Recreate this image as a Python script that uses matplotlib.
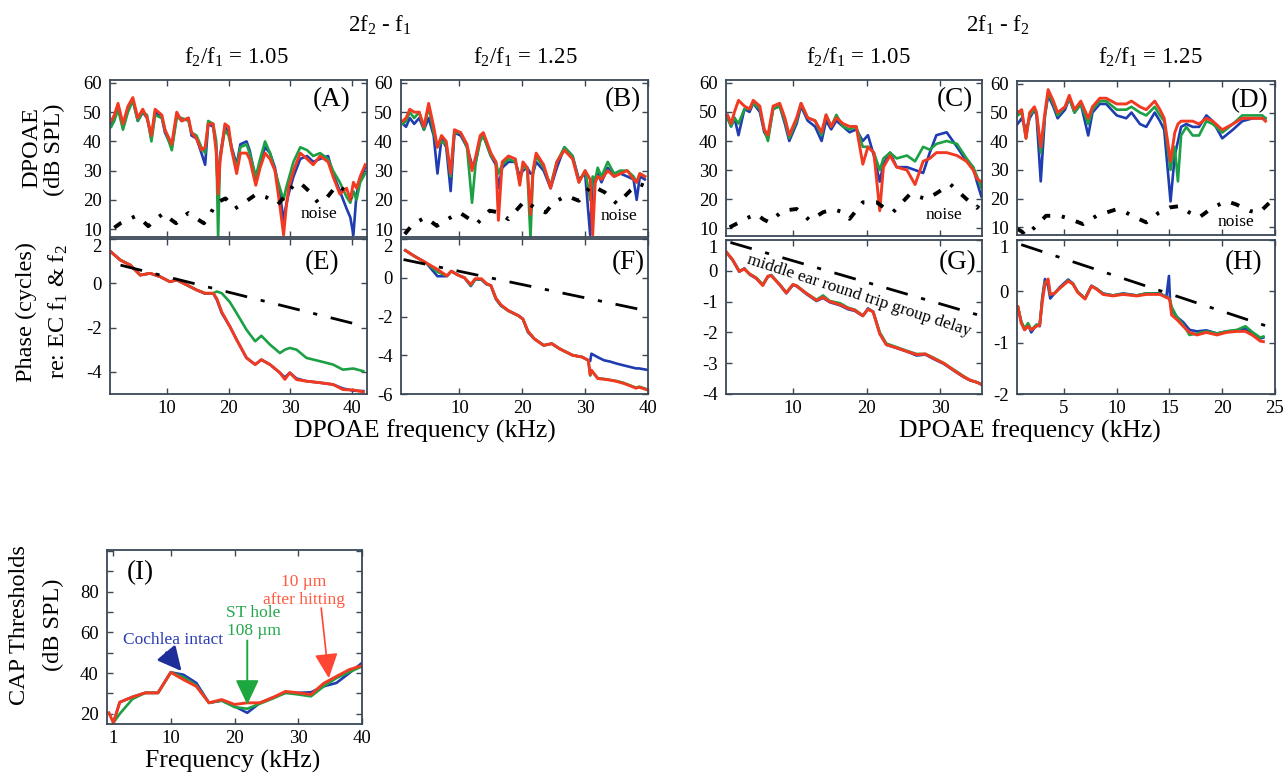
import matplotlib
matplotlib.use('Agg')
import matplotlib.pyplot as plt

plt.rcParams['font.family'] = ['Liberation Serif', 'DejaVu Serif']
plt.rcParams['mathtext.fontset'] = 'custom'
plt.rcParams['mathtext.rm'] = 'Liberation Serif'
plt.rcParams['mathtext.default'] = 'regular'
plt.rcParams['axes.unicode_minus'] = False

BLUE = '#1f3cb0'
GREEN = '#1ca044'
RED = '#f23a22'
FRAME = '#3a4856'

# ---- (A) 2f2-f1, f2/f1 = 1.05, magnitude (dB SPL)
fa = [1.0, 1.5, 2.1, 2.9, 3.7, 4.5, 5.3, 6.1, 6.8, 7.5,
      8.1, 9.2, 9.7, 10.8, 11.6, 12.4, 13.5, 14.0, 14.8, 15.6,
      16.2, 16.7, 17.5, 18.0, 18.3, 18.6, 19.4, 20.0, 20.5, 21.3,
      21.9, 22.9, 23.4, 24.4, 25.1, 25.9, 26.7, 27.5, 28.3, 28.9,
      29.3, 29.7, 30.5, 31.6, 32.7, 33.7, 34.8, 36.1, 36.9, 38.0,
      39.1, 39.7, 40.2, 40.7, 41.3, 42.1]
a_blue = [46, 48, 52, 45, 51, 54, 47, 50, 48, 41,
          50, 48, 43, 38, 49, 47, 48, 42, 41, 36,
          32, 46, 45, 38, 20, 35, 45, 43, 38, 32,
          39, 40, 37, 27, 33, 38, 36, 31, 22, 13,
          18, 22, 28, 34, 35, 33, 34, 35, 29, 23,
          17, 14, 8, 22, 27, 31]
a_green = [45, 47, 51, 44, 50, 54, 47, 50, 49, 40,
           49, 48, 44, 37, 48, 48, 47, 43, 42, 38,
           36, 47, 46, 40, 7, 34, 44, 42, 37, 31,
           38, 39, 36, 28, 34, 40, 36, 30, 24, 20,
           24, 27, 33, 38, 37, 35, 36, 34, 30, 26,
           21, 19, 23, 20, 26, 29]
a_red = [47, 49, 53, 46, 52, 55, 48, 51, 48, 42,
         51, 49, 44, 39, 50, 47, 48, 43, 41, 37,
         38, 46, 46, 36, 22, 33, 46, 45, 37, 29,
         36, 36, 34, 25, 31, 36, 34, 30, 18, 8,
         17, 24, 30, 36, 34, 32, 35, 33, 28, 22,
         24, 20, 26, 24, 28, 32]
na_f = [1.5, 2.5, 3.5, 5.0, 6.0, 7.0, 8.0, 9.5, 10.5, 11.5, 12.5, 13.5, 14.5, 16.0, 17.0,
        18.0, 19.5, 21.0, 22.5, 24.5, 26.0, 28.0, 29.0, 30.5, 31.5, 33.0, 34.5, 36.0, 37.5, 39.0, 40.0]
na_db = [10.5, 12.0, 13.0, 14.5, 13.0, 11.0, 13.0, 15.5, 13.5, 12.0, 14.0, 15.5, 14.0, 12.0, 15.0,
         19.0, 20.5, 17.0, 19.0, 22.0, 21.0, 18.5, 21.0, 25.0, 26.0, 23.0, 19.0, 21.0, 25.0, 23.0, 20.5]

# ---- (B) 2f2-f1, f2/f1 = 1.25
fb = [1.0, 1.5, 2.1, 2.8, 3.6, 4.35, 5.1, 5.9, 6.5, 7.15,
      7.9, 8.6, 9.2, 10.2, 11.2, 12.0, 12.6, 13.3, 13.8, 15.0,
      15.8, 16.2, 16.8, 17.8, 18.9, 19.6, 20.1, 20.8, 21.3, 21.7,
      22.2, 23.4, 24.5, 25.5, 26.7, 28.0, 29.0, 30.0, 30.8, 31.2,
      31.6, 32.0, 32.6, 33.6, 34.6, 35.6, 36.7, 37.7, 38.2, 38.7,
      39.5]
b_blue = [46, 45, 48, 46, 48, 44, 48, 42, 29, 41,
          38, 23, 43, 42, 38, 32, 33, 41, 42, 35,
          32, 24, 31, 33, 33, 28, 30, 31, 29, 29,
          33, 30, 24, 31, 38, 35, 27, 29, 8, 27,
          26, 29, 26, 31, 28, 29, 28, 27, 20, 28,
          27]
b_green = [46, 47, 50, 48, 50, 44, 52, 43, 38, 40,
           39, 28, 43, 43, 38, 19, 33, 40, 42, 35,
           33, 29, 32, 34, 33, 26, 32, 30, 7, 29,
           35, 31, 25, 33, 38, 35, 26, 30, 20, 28,
           27, 31, 28, 33, 29, 30, 30, 28, 26, 29,
           28]
b_red = [47, 48, 51, 50, 50, 45, 53, 45, 38, 42,
         40, 29, 44, 43, 39, 30, 35, 42, 43, 36,
         33, 13, 33, 35, 34, 25, 33, 31, 15, 30,
         36, 32, 24, 33, 37, 34, 26, 30, 27, 8,
         26, 28, 27, 30, 28, 29, 30, 27, 26, 29,
         28]
nb_f = [1.3, 2.6, 4.6, 6.4, 7.7, 10.0, 11.2, 12.7, 14.8, 16.3, 17.8, 20.4,
        21.9, 23.7, 25.0, 27.0, 29.0, 31.0, 33.1, 35.1, 37.2, 38.7, 39.8]
nb_db = [8.3, 11.7, 14.0, 11.1, 12.9, 15.7, 14.0, 11.7, 16.3, 15.7, 13.4, 19.7,
         17.4, 15.7, 19.1, 21.4, 19.7, 24.9, 22.6, 18.6, 23.2, 25.4, 24.5]

# ---- (C) 2f1-f2, f2/f1 = 1.05
fc = [1.1, 1.6, 2.05, 2.6, 3.4, 4.1, 4.6, 5.5, 6.1, 6.6,
      7.3, 8.2, 8.9, 9.5, 10.5, 11.1, 12.0, 13.0, 13.9, 14.5,
      15.2, 15.9, 16.8, 17.7, 18.6, 19.5, 20.2, 21.0, 21.8, 22.3,
      23.2, 24.1, 25.5, 26.6, 27.7, 28.6, 29.5, 30.9, 32.3, 33.6,
      34.5, 35.0, 35.6]
c_blue = [48, 45, 48, 42, 51, 50, 53, 50, 43, 41,
          51, 52, 46, 40, 46, 52, 47, 45, 40, 47,
          44, 47, 45, 43, 44, 40, 42, 35, 26, 32,
          36, 31, 31, 30, 29, 36, 42, 43, 38, 33,
          31, 26, 21]
c_green = [48, 45, 48, 46, 51, 51, 53, 51, 44, 40,
           51, 52, 47, 41, 47, 53, 48, 47, 42, 49,
           45, 49, 45, 44, 45, 38, 38, 36, 30, 34,
           36, 34, 35, 33, 38, 37, 39, 40, 39, 34,
           31, 28, 24]
c_red = [49, 46, 50, 54, 52, 51, 54, 52, 44, 42,
         52, 53, 48, 42, 48, 53, 48, 47, 43, 49,
         45, 48, 46, 45, 45, 32, 38, 36, 16, 31,
         35, 31, 30, 25, 33, 34, 36, 36, 35, 33,
         30, 27, 26]
nc_f = [1.4, 2.7, 3.8, 5.0, 6.0, 6.8, 8.6, 10.5, 11.5, 12.3, 14.1, 15.5, 16.8,
        17.7, 19.5, 21.4, 22.4, 23.6, 25.9, 28.2, 29.5, 31.4, 33.6, 35.0, 35.6]
nc_db = [10.3, 12.0, 13.5, 14.9, 13.0, 12.0, 16.0, 16.6, 14.5, 12.6, 15.5, 16.5, 15.5,
         13.2, 18.9, 18.9, 17.0, 15.5, 21.7, 20.0, 22.0, 25.1, 20.0, 17.0, 19.0]

# ---- (D) 2f1-f2, f2/f1 = 1.25
fd = [0.6, 1.0, 1.4, 1.75, 2.2, 2.4, 2.8, 3.2, 3.5, 4.0,
      4.4, 5.1, 5.5, 6.0, 6.6, 7.3, 7.7, 8.4, 9.0, 10.0,
      10.9, 11.4, 12.2, 12.8, 13.6, 14.1, 14.5, 15.1, 15.5, 15.8,
      16.1, 16.6, 17.2, 17.8, 18.5, 19.1, 20.0, 21.0, 21.9, 22.9,
      23.8, 24.1]
d_blue = [46, 48, 44, 48, 51, 49, 26, 49, 56, 52,
          48, 51, 55, 50, 53, 42, 50, 53, 53, 49,
          48, 50, 46, 45, 50, 47, 44, 19, 35, 40,
          45, 46, 45, 45, 49, 47, 41, 44, 47, 48,
          48, 48]
d_green = [49, 50, 41, 49, 51, 50, 36, 49, 57, 53,
           49, 52, 55, 50, 53, 46, 51, 54, 54, 51,
           51, 52, 50, 49, 52, 49, 47, 30, 38, 26,
           42, 45, 42, 42, 47, 46, 43, 46, 49, 49,
           49, 48]
d_red = [50, 51, 41, 50, 52, 50, 38, 50, 58, 54,
         50, 52, 56, 51, 54, 48, 52, 55, 55, 53,
         53, 54, 52, 51, 54, 51, 48, 33, 43, 46,
         47, 47, 47, 46, 48, 47, 44, 46, 48, 48,
         48, 47]
nd_f = [0.6, 1.0, 1.4, 2.7, 3.3, 4.6, 5.5, 6.8, 8.1, 9.0, 10.0, 10.9, 11.8,
        12.8, 14.0, 15.0, 16.0, 16.9, 17.8, 19.1, 20.4, 21.3, 22.6, 23.5, 24.8]
nd_db = [9.4, 8.5, 7.0, 11.7, 14.0, 14.0, 13.0, 11.1, 14.0, 15.1, 16.3, 15.1, 13.4,
         11.7, 15.1, 16.9, 17.4, 15.1, 13.4, 16.9, 19.1, 18.0, 15.7, 15.1, 19.7]

# ---- phase panels (cycles)
fe = [0.95, 2.46, 4.1, 5.7, 7.3, 8.9, 10.5, 11.6, 13.2, 14.8,
      16.2, 17.5, 18.1, 18.9, 20.2, 21.3, 22.9, 24.3, 25.3, 26.7,
      28.3, 29.1, 29.9, 31.0, 32.6, 34.8, 36.9, 38.5, 40.2, 41.8]
e_blue = [1.42, 1.05, 0.82, 0.37, 0.45, 0.30, 0.07, 0.15, -0.07, -0.30,
          -0.47, -0.45, -0.75, -1.35, -1.95, -2.55, -3.37, -3.67, -3.45, -3.67,
          -4.04, -4.25, -4.04, -4.30, -4.42, -4.49, -4.57, -4.75, -4.85, -4.87]
e_green = [1.42, 1.05, 0.82, 0.37, 0.45, 0.30, 0.07, 0.15, -0.07, -0.30,
           -0.45, -0.45, -0.37, -0.45, -0.85, -1.35, -2.10, -2.62, -2.37, -2.77,
           -3.15, -3.00, -2.92, -3.00, -3.37, -3.52, -3.67, -3.90, -3.85, -3.97]
e_red = [1.42, 1.05, 0.82, 0.37, 0.45, 0.30, 0.07, 0.15, -0.07, -0.30,
         -0.45, -0.45, -0.70, -1.30, -1.95, -2.55, -3.37, -3.67, -3.45, -3.67,
         -4.04, -4.34, -4.04, -4.35, -4.42, -4.49, -4.57, -4.80, -4.82, -4.90]
gd_e_f = [2.5, 40.0]
gd_e = [0.82, -1.80]

ff = [1.4, 2.9, 4.7, 6.5, 8.0, 8.7, 9.7, 10.8, 11.8, 12.5,
      13.5, 14.3, 15.0, 15.8, 16.6, 17.8, 19.4, 20.1, 20.9, 21.9,
      23.4, 24.7, 25.9, 28.0, 29.5, 30.5, 30.8, 31.0, 32.0, 33.0,
      34.0, 35.0, 36.1, 37.1, 38.1, 38.6, 39.8]
f_blue = [1.41, 1.10, 0.77, 0.08, 0.08, 0.34, 0.15, 0.00, -0.43, -0.09,
          -0.10, -0.34, -0.40, -1.10, -1.45, -1.70, -1.96, -2.13, -2.81, -3.15,
          -3.49, -3.40, -3.66, -4.00, -4.09, -4.26, -4.30, -3.92, -4.10, -4.26,
          -4.33, -4.43, -4.52, -4.60, -4.68, -4.68, -4.75]
f_green = [1.41, 1.10, 0.77, 0.30, 0.10, 0.34, 0.15, 0.00, -0.40, -0.08,
           -0.08, -0.32, -0.40, -1.08, -1.42, -1.72, -1.96, -2.15, -2.78, -3.15,
           -3.49, -3.40, -3.66, -4.00, -4.09, -4.26, -5.05, -4.80, -5.18, -5.22,
           -5.28, -5.33, -5.42, -5.55, -5.68, -5.62, -5.75]
f_red = [1.41, 1.10, 0.77, 0.43, 0.10, 0.34, 0.15, 0.00, -0.35, -0.05,
         -0.05, -0.30, -0.40, -1.05, -1.40, -1.70, -1.96, -2.13, -2.75, -3.15,
         -3.49, -3.40, -3.66, -4.00, -4.09, -4.26, -5.00, -4.77, -5.20, -5.24,
         -5.28, -5.35, -5.45, -5.57, -5.70, -5.65, -5.78]
gd_f_f = [1.1, 40.0]
gd_f = [0.94, -1.72]

fg = [1.0, 1.8, 2.7, 3.4, 4.1, 5.0, 5.9, 6.6, 7.05, 8.2,
      9.1, 10.0, 10.5, 11.8, 13.2, 14.1, 15.0, 16.4, 17.5, 18.4,
      19.5, 20.2, 20.9, 21.8, 22.7, 24.1, 25.5, 26.8, 28.0, 29.1,
      30.5, 31.8, 33.2, 34.1, 35.0, 35.7]
g_blue = [0.58, 0.35, -0.03, 0.08, -0.12, -0.25, -0.46, -0.19, -0.14, -0.46,
          -0.73, -0.46, -0.50, -0.75, -0.98, -0.88, -1.02, -1.12, -1.25, -1.30,
          -1.47, -1.22, -1.33, -2.03, -2.40, -2.51, -2.62, -2.75, -2.72, -2.86,
          -3.02, -3.23, -3.45, -3.56, -3.62, -3.70]
g_green = [0.58, 0.35, 0.00, 0.05, -0.10, -0.22, -0.44, -0.19, -0.14, -0.44,
           -0.70, -0.46, -0.48, -0.72, -0.94, -0.80, -0.98, -1.05, -1.20, -1.26,
           -1.45, -1.25, -1.33, -2.00, -2.36, -2.48, -2.60, -2.70, -2.70, -2.82,
           -3.00, -3.20, -3.42, -3.55, -3.62, -3.68]
g_red = [0.60, 0.36, -0.02, 0.06, -0.10, -0.24, -0.48, -0.17, -0.16, -0.45,
         -0.72, -0.44, -0.49, -0.73, -0.96, -0.86, -1.00, -1.10, -1.22, -1.28,
         -1.46, -1.25, -1.33, -2.05, -2.40, -2.50, -2.62, -2.72, -2.70, -2.84,
         -3.00, -3.22, -3.44, -3.55, -3.62, -3.70]
gd_g_f = [1.5, 35.7]
gd_g = [0.92, -1.47]

fh = [0.63, 0.95, 1.27, 1.6, 1.9, 2.4, 2.7, 2.95, 3.2, 3.5,
      3.7, 4.1, 4.6, 5.4, 5.85, 6.3, 7.0, 7.6, 8.1, 8.7,
      9.65, 10.6, 11.9, 12.8, 14.1, 14.7, 14.95, 15.05, 15.2, 15.7,
      16.3, 16.9, 17.6, 18.5, 19.5, 20.4, 21.4, 22.2, 22.9, 23.6,
      23.9]
h_blue = [-0.30, -0.59, -0.75, -0.65, -0.80, -0.65, -0.68, -0.11, 0.24, 0.10,
          -0.14, -0.04, 0.08, 0.23, 0.15, -0.01, -0.14, 0.11, 0.05, -0.04,
          -0.08, -0.04, -0.08, -0.04, -0.04, -0.11, 0.30, -0.17, -0.35, -0.50,
          -0.60, -0.75, -0.78, -0.76, -0.82, -0.78, -0.76, -0.72, -0.84, -0.92,
          -0.90]
h_green = [-0.30, -0.59, -0.72, -0.62, -0.75, -0.65, -0.66, -0.15, 0.18, 0.20,
           -0.06, -0.04, 0.06, 0.21, 0.15, -0.01, -0.14, 0.10, 0.05, -0.05,
           -0.08, -0.05, -0.08, -0.04, -0.05, -0.11, -0.13, -0.17, -0.30, -0.50,
           -0.65, -0.85, -0.82, -0.78, -0.82, -0.78, -0.75, -0.68, -0.80, -0.90,
           -0.88]
h_red = [-0.30, -0.62, -0.75, -0.68, -0.75, -0.68, -0.66, -0.20, 0.15, 0.24,
         -0.06, -0.04, 0.06, 0.20, 0.14, -0.02, -0.15, 0.10, 0.04, -0.06,
         -0.09, -0.06, -0.09, -0.06, -0.06, -0.12, -0.14, -0.20, -0.46, -0.55,
         -0.68, -0.80, -0.85, -0.80, -0.85, -0.80, -0.78, -0.78, -0.86, -0.97,
         -0.98]
gd_h_f = [0.95, 25.0]
gd_h = [0.91, -0.73]

# ---- (I) CAP thresholds
fi = [1, 2, 4, 6, 8, 10, 12, 14, 16, 18, 20, 22, 24, 26, 28, 30, 32, 34, 36, 38, 40]
i_blue = [15.6, 25.7, 28.3, 30.3, 30.3, 40.4, 39.2, 35.2, 25.4, 26.5, 23.7,
          20.5, 25.4, 28.0, 30.3, 30.3, 30.6, 33.5, 35.2, 40.0, 45.0]
i_green = [15.6, 20.0, 27.3, 30.3, 30.3, 40.4, 38.0, 34.0, 25.4, 26.5, 23.3,
           22.5, 25.0, 27.5, 30.3, 29.5, 28.6, 33.5, 37.6, 40.5, 43.3]
fi_red = [0.3] + fi
i_red = [20.5, 15.6, 25.7, 28.3, 30.3, 30.3, 40.4, 36.8, 33.5, 25.4, 27.0, 24.6,
         25.4, 25.4, 28.0, 31.0, 30.3, 29.5, 35.0, 38.4, 41.7, 43.7]

W, H = 1283, 774
fig = plt.figure(figsize=(W / 100, H / 100), dpi=100)


def px_axes(l, t, r, b):
    return fig.add_axes([l / W, 1 - b / H, (r - l) / W, (b - t) / H])


def style(ax, labelbottom=True):
    for s in ax.spines.values():
        s.set_color(FRAME)
        s.set_linewidth(1.3)
    ax.tick_params(direction='in', top=True, right=True, length=4, width=1,
                   color=FRAME, labelsize=13.5, pad=6, labelbottom=labelbottom)
    ax.tick_params(axis='x', pad=4)


def three(ax, x, b, g, r, xr=None):
    ax.plot(x, b, color=BLUE, lw=1.9)
    ax.plot(x, g, color=GREEN, lw=1.9)
    ax.plot(x if xr is None else xr, r, color=RED, lw=2.1)


def noise(ax, x, y, tx, ty):
    ax.plot(x, y, color='k', lw=2.8, ls=(0, (2.2, 3, 0.8, 3)))
    ax.text(tx, ty, 'noise', fontsize=12.5, ha='center', va='center')


def delay(ax, x, y):
    ax.plot(x, y, color='k', lw=2, ls=(0, (8, 5, 1.5, 5)))


def top_label_down(ax):
    # the top phase label sits just under the frame, as in the figure
    ax.yaxis.get_major_ticks()[0].label1.set_verticalalignment('top')


def ptext(fx, fy, s, **kw):
    fig.text(fx / W, 1 - fy / H, s, ha='center', va='center', **kw)


boxes = {
    'A': (110, 80, 367, 237), 'B': (401, 80, 648, 237),
    'C': (726, 80, 982, 236), 'D': (1017, 81, 1275, 235),
    'E': (110, 239, 367, 394), 'F': (401, 239, 648, 394),
    'G': (726, 240, 982, 394), 'H': (1017, 240, 1275, 394),
}
ax = {k: px_axes(*v) for k, v in boxes.items()}

# magnitude panels
three(ax['A'], fa, a_blue, a_green, a_red)
noise(ax['A'], na_f, na_db, 34.6, 15.1)
three(ax['B'], fb, b_blue, b_green, b_red)
noise(ax['B'], nb_f, nb_db, 35.3, 14.5)
three(ax['C'], fc, c_blue, c_green, c_red)
noise(ax['C'], nc_f, nc_db, 30.5, 14.6)
three(ax['D'], fd, d_blue, d_green, d_red)
noise(ax['D'], nd_f, nd_db, 21.3, 11.9)

lims = {'A': (0.8, 42.4), 'B': (0.7, 40), 'C': (0.9, 35.7), 'D': (0.55, 25)}
xt = {'A': [10, 20, 30, 40], 'B': [10, 20, 30, 40], 'C': [10, 20, 30], 'D': [5, 10, 15, 20, 25]}
for top, bot in [('A', 'E'), ('B', 'F'), ('C', 'G'), ('D', 'H')]:
    a = ax[top]
    a.set_xlim(*lims[top])
    a.set_ylim(7.3, 61)
    a.set_yticks([10, 20, 30, 40, 50, 60])
    a.set_xticks(xt[top])
    style(a, labelbottom=False)
    b = ax[bot]
    b.set_xlim(*lims[top])
    b.set_xticks(xt[top])
    style(b)

# phase panels
three(ax['E'], fe, e_blue, e_green, e_red)
delay(ax['E'], gd_e_f, gd_e)
ax['E'].set_ylim(-5, 2)
ax['E'].set_yticks([2, 0, -2, -4])

three(ax['F'], ff, f_blue, f_green, f_red)
delay(ax['F'], gd_f_f, gd_f)
ax['F'].set_ylim(-6, 2)
ax['F'].set_yticks([2, 0, -2, -4, -6])

three(ax['G'], fg, g_blue, g_green, g_red)
delay(ax['G'], gd_g_f, gd_g)
ax['G'].set_ylim(-4, 1)
ax['G'].set_yticks([1, 0, -1, -2, -3, -4])
ax['G'].text(19.0, -0.79, 'middle ear round trip group delay', fontsize=12.5,
             rotation=-18, rotation_mode='anchor', ha='center', va='center')

three(ax['H'], fh, h_blue, h_green, h_red)
delay(ax['H'], gd_h_f, gd_h)
ax['H'].set_ylim(-2, 1)
ax['H'].set_yticks([1, 0, -1, -2])

for k in 'EFGH':
    top_label_down(ax[k])

letter_pos = {'A': (0.862, 0.873), 'B': (0.90, 0.873), 'C': (0.895, 0.873), 'D': (0.90, 0.873),
              'E': (0.824, 0.845), 'F': (0.92, 0.85), 'G': (0.905, 0.85), 'H': (0.88, 0.855)}
for k, (x, y) in letter_pos.items():
    ax[k].text(x, y, '(%s)' % k, transform=ax[k].transAxes, fontsize=19.5,
               ha='center', va='center')

# panel I
axi = px_axes(107, 550, 362, 724)
three(axi, fi, i_blue, i_green, i_red, xr=fi_red)
axi.set_xlim(0, 40)
axi.set_ylim(15, 100.5)
axi.set_xticks([1, 10, 20, 30, 40])
axi.set_yticks([20, 30, 40, 50, 60, 70, 80, 90, 100])
axi.set_yticklabels(['20', '', '40', '', '60', '', '80', '', ''])
style(axi)
axi.text(0.13, 0.87, '(I)', transform=axi.transAxes, fontsize=19.5, ha='center', va='center')
axi.text(10.4, 56.4, 'Cochlea intact', color='#2b3cb0', fontsize=12.5, ha='center', va='center')
axi.text(23.0, 65.0, 'ST hole\n108 µm', color='#22a84a', fontsize=12.5, ha='center',
         va='center', linespacing=1.15)
axi.text(30.9, 80.2, '10 µm\nafter hitting', color='#ff5a40', fontsize=12.5, ha='center',
         va='center', linespacing=1.15)
axi.annotate('', xy=(11.7, 41), xytext=(9.3, 50),
             arrowprops=dict(arrowstyle='-|>,head_length=0.9,head_width=0.45',
                             mutation_scale=16, lw=2, color='#1f2f9a',
                             shrinkA=0, shrinkB=0))
axi.annotate('', xy=(22.0, 24.5), xytext=(22.0, 56),
             arrowprops=dict(arrowstyle='-|>,head_length=0.85,head_width=0.4',
                             mutation_scale=18, lw=1.4, color='#1ca83e',
                             shrinkA=0, shrinkB=0))
axi.annotate('', xy=(34.8, 37.5), xytext=(33.6, 72),
             arrowprops=dict(arrowstyle='-|>,head_length=0.85,head_width=0.4',
                             mutation_scale=18, lw=1.2, color='#ff4632',
                             shrinkA=0, shrinkB=0))

# figure texts
ptext(380, 25, '2f$_2$ - f$_1$', fontsize=16.5)
ptext(998, 25, '2f$_1$ - f$_2$', fontsize=16.5)
ptext(236, 57, 'f$_2$/f$_1$ = 1.05', fontsize=16.5)
ptext(525, 57, 'f$_2$/f$_1$ = 1.25', fontsize=16.5)
ptext(858, 57, 'f$_2$/f$_1$ = 1.05', fontsize=16.5)
ptext(1150, 57, 'f$_2$/f$_1$ = 1.25', fontsize=16.5)
ptext(32, 148, 'DPOAE', fontsize=17.5, rotation=90)
ptext(54, 150, '(dB SPL)', fontsize=17.5, rotation=90)
ptext(26, 312, 'Phase (cycles)', fontsize=17.5, rotation=90)
ptext(58, 312, 're: EC f$_1$ & f$_2$', fontsize=17.5, rotation=90)
ptext(425, 431, 'DPOAE frequency (kHz)', fontsize=18.5)
ptext(1030, 431, 'DPOAE frequency (kHz)', fontsize=18.5)
ptext(20, 625, 'CAP Thresholds', fontsize=17.5, rotation=90)
ptext(53, 625, '(dB SPL)', fontsize=17.5, rotation=90)
ptext(233, 761, 'Frequency (kHz)', fontsize=18.5)

fig.savefig('out.png', dpi=100)
